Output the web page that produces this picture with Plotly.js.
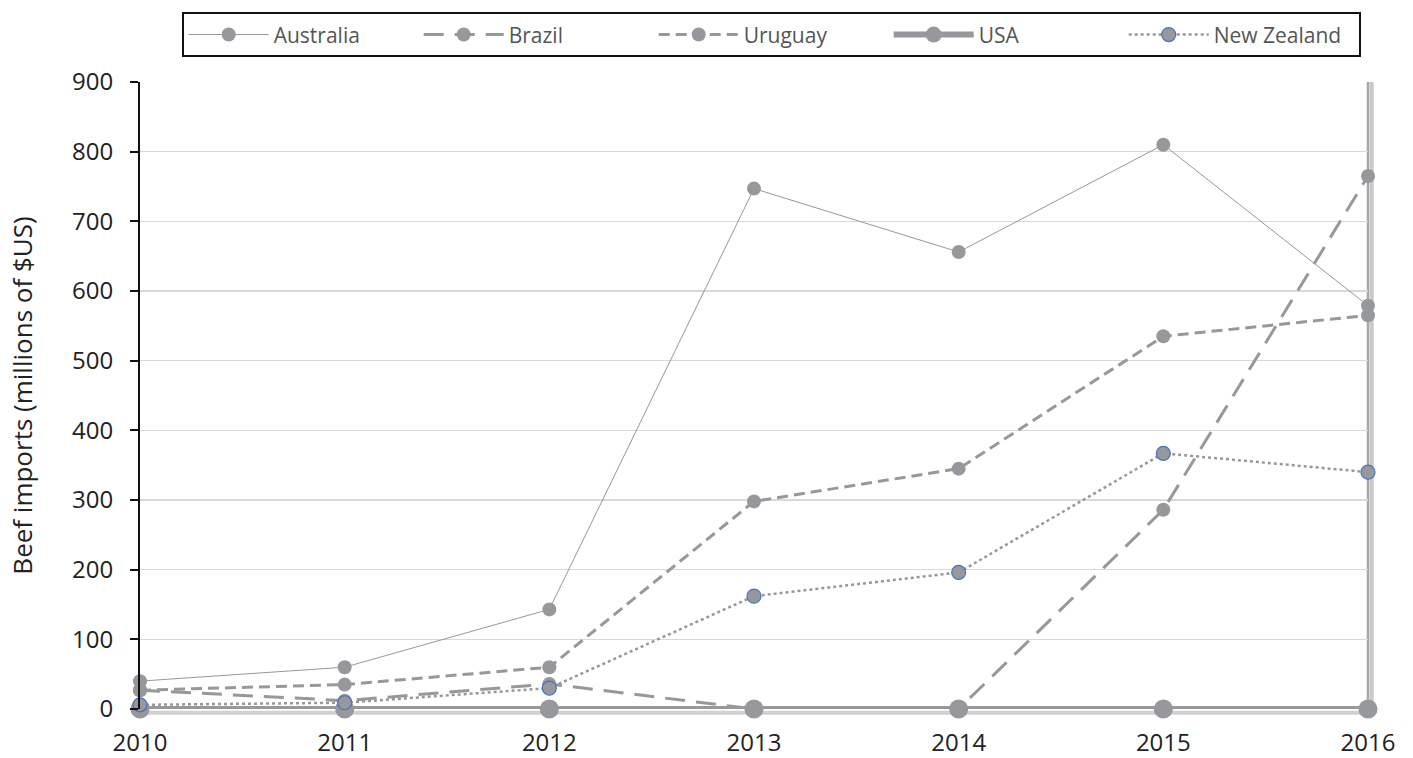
<!DOCTYPE html>
<html><head><meta charset="utf-8">
<script src="https://cdn.plot.ly/plotly-3.0.1.min.js"></script>
<style>body{margin:0;background:#fff}#chart{width:1413px;height:758px}</style>
</head><body><div id="chart"></div>
<script>
const years = [2010, 2011, 2012, 2013, 2014, 2015, 2016];
const australia = [40, 60, 143, 747, 656, 810, 579];
const brazil = [27, 12, 36, 0, 0, 286, 765];
const uruguay = [27, 35, 60, 298, 345, 535, 565];
const usa = [0, 0, 0, 0, 0, 0, 0];
const newZealand = [6, 9, 30, 162, 196, 367, 340];
const yTicks = [0, 100, 200, 300, 400, 500, 600, 700, 800, 900];

const grey = '#97989c';
const traces = [
  {name: 'Australia', y: australia, line: {color: grey, width: 1, dash: 'solid'}, marker: {size: 14, color: grey}},
  {name: 'Brazil', y: brazil, line: {color: grey, width: 3, dash: '20px,11px'}, marker: {size: 14, color: grey}},
  {name: 'Uruguay', y: uruguay, line: {color: grey, width: 3, dash: '11px,6px'}, marker: {size: 14, color: grey}},
  {name: 'USA', y: usa, line: {color: grey, width: 6, dash: 'solid'}, marker: {size: 19, color: grey}},
  {name: 'New Zealand', y: newZealand, line: {color: grey, width: 2.5, dash: 'dot'}, marker: {size: 14, color: grey, line: {color: '#4472c4', width: 1.2}}}
].map(t => Object.assign({x: years, type: 'scatter', mode: 'lines+markers', cliponaxis: false}, t));

const layout = {
  width: 1413, height: 758,
  margin: {l: 140, r: 45, t: 78, b: 49},
  paper_bgcolor: '#fff', plot_bgcolor: '#fff',
  font: {family: 'Open Sans, sans-serif', size: 24, color: '#222'},
  xaxis: {
    range: [2010, 2016], tickvals: years, ticktext: years.map(String),
    showgrid: false, zeroline: false, showline: false,
    ticks: 'outside', ticklen: 12, tickcolor: 'rgba(0,0,0,0)',
    tickfont: {size: 24, color: '#222'}
  },
  yaxis: {
    range: [0, 900], tickvals: yTicks, showgrid: true, gridcolor: '#d9d9d9', gridwidth: 1.2,
    zeroline: false, showline: true, linecolor: '#111', linewidth: 2,
    ticks: 'outside', ticklen: 8, tickcolor: '#111', tickwidth: 2,
    ticklabelstandoff: 12,
    tickfont: {size: 24, color: '#222'},
    title: {text: 'Beef imports (millions of $US)', font: {size: 26, color: '#222'}, standoff: 32}
  },
  showlegend: true,
  legend: {
    orientation: 'h', x: 0.514, xanchor: 'center', y: 1.111, yanchor: 'top',
    bordercolor: '#111', borderwidth: 2, bgcolor: '#fff',
    font: {size: 21, color: '#555'}, itemwidth: 80,
    entrywidth: 140, entrywidthmode: 'pixels', traceorder: 'normal'
  },
  shapes: [
    {type: 'line', xref: 'paper', yref: 'paper', x0: 1.003, x1: 1.003, y0: -0.01, y1: 1, line: {color: '#c8c8c8', width: 4}, layer: 'below'},
    {type: 'line', xref: 'paper', yref: 'paper', x0: 1, x1: 1, y0: 0, y1: 1, line: {color: '#a6a6a6', width: 2.5}, layer: 'below'},
    {type: 'line', xref: 'paper', yref: 'paper', x0: 0, x1: 1, y0: -0.006, y1: -0.006, line: {color: '#d0d0d0', width: 4}, layer: 'below'}
  ]
};
Plotly.newPlot('chart', traces, layout, {displayModeBar: false, staticPlot: true});
</script></body></html>
